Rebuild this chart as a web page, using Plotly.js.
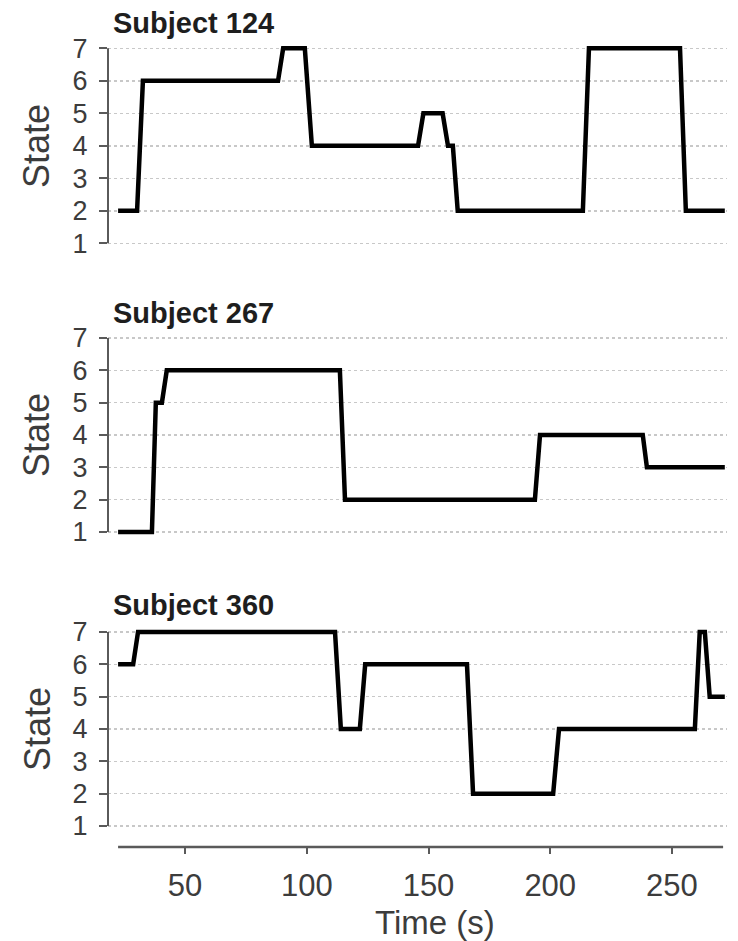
<!DOCTYPE html>
<html>
<head>
<meta charset="utf-8">
<script src="https://cdn.plot.ly/plotly-3.0.1.min.js"></script>
<style>
  html, body { margin: 0; padding: 0; background: #ffffff; }
  #chart { width: 738px; height: 941px; }
</style>
</head>
<body>
<div id="chart"></div>
<script>
// State trajectories over time for three subjects
const subjectNames = ["Subject 124", "Subject 267", "Subject 360"];

const time124  = [22.5, 30.3, 32.7, 88.2, 90.3, 99.2, 102.1, 145.7, 147.9, 155.8, 158.0, 160.0, 162.0, 213.4, 215.9, 253.3, 255.7, 271.7];
const state124 = [2,    2,    6,    6,    7,    7,    4,     4,     5,     5,     4,     4,     2,     2,     7,     7,     2,     2];

const time267  = [22.5, 36.4, 38.0, 40.5, 42.5, 113.6, 115.7, 193.7, 195.8, 238.0, 239.7, 271.7];
const state267 = [1,    1,    5,    5,    6,    6,     2,     2,     4,     4,     3,     3];

const time360  = [22.5, 28.7, 30.7, 111.6, 114.0, 121.8, 124.0, 165.8, 168.3, 201.2, 203.6, 259.4, 261.4, 263.5, 265.5, 271.7];
const state360 = [6,    6,    7,    7,     4,     4,     6,     6,     2,     2,     4,     4,     7,     7,     5,     5];

const stateTicks = [1, 2, 3, 4, 5, 6, 7];
const timeTicks  = [50, 100, 150, 200, 250];

const seriesTimes  = [time124, time267, time360];
const seriesStates = [state124, state267, state360];

// panel geometry (paper fractions)
const xRange = [18.36, 272.6];
const yDomains = [[0.7328, 0.9573], [0.4260, 0.6494], [0.0999, 0.3370]];
const yRanges  = [[0.75, 7.25], [0.75, 7.25], [0.35, 7.25]];

const FONT = "Liberation Sans, Arial, Helvetica, sans-serif";
const TEXT_GREY = "#3c3c3c";
const AXIS_GREY = "#5a5a5a";

const traces = seriesTimes.map((t, i) => ({
  type: "scatter",
  mode: "lines",
  x: t,
  y: seriesStates[i],
  xaxis: i === 0 ? "x" : "x" + (i + 1),
  yaxis: i === 0 ? "y" : "y" + (i + 1),
  line: { color: "#000000", width: 4.5, shape: "linear" },
  hoverinfo: "x+y",
  showlegend: false
}));

const layout = {
  width: 738,
  height: 941,
  margin: { l: 108, r: 11, t: 0, b: 0, pad: 0 },
  paper_bgcolor: "#ffffff",
  plot_bgcolor: "#ffffff",
  font: { family: FONT, color: TEXT_GREY },
  showlegend: false,
  shapes: [],
  annotations: []
};

for (let i = 0; i < 3; i++) {
  const xn = i === 0 ? "xaxis" : "xaxis" + (i + 1);
  const yn = i === 0 ? "yaxis" : "yaxis" + (i + 1);
  const yref = i === 0 ? "y" : "y" + (i + 1);
  const xref = i === 0 ? "x" : "x" + (i + 1);
  const isBottom = i === 2;

  layout[xn] = {
    domain: [0, 1],
    anchor: yref,
    range: xRange,
    showgrid: false,
    zeroline: false,
    showline: false,
    tickmode: "array",
    tickvals: isBottom ? timeTicks : [],
    ticktext: isBottom ? timeTicks.map(String) : [],
    ticks: isBottom ? "outside" : "",
    ticklen: 6,
    tickwidth: 2,
    tickcolor: AXIS_GREY,
    showticklabels: isBottom,
    tickfont: { family: FONT, size: 31, color: TEXT_GREY },
    ticklabelstandoff: 5,
    fixedrange: true
  };

  layout[yn] = {
    domain: yDomains[i],
    anchor: xref,
    range: yRanges[i],
    tickmode: "array",
    tickvals: stateTicks,
    ticktext: stateTicks.map(String),
    ticks: "outside",
    ticklen: 8,
    tickwidth: 2,
    tickcolor: AXIS_GREY,
    tickfont: { family: FONT, size: 27, color: TEXT_GREY },
    ticklabelstandoff: 6,
    showgrid: true,
    gridcolor: "#c8c8c8",
    gridwidth: 1.5,
    griddash: "dot",
    zeroline: false,
    showline: false,
    fixedrange: true
  };

  // vertical axis bracket spanning states 1..7
  layout.shapes.push({
    type: "line",
    xref: "paper", yref: yref,
    x0: 0, x1: 0, y0: 1, y1: 7,
    line: { color: AXIS_GREY, width: 2 }
  });

  // panel title
  layout.annotations.push({
    text: "<b>" + subjectNames[i] + "</b>",
    xref: "paper", yref: "paper",
    x: (111 - 108) / 619, xanchor: "left",
    y: 1 - [22.5, 312.5, 605][i] / 941, yanchor: "middle",
    showarrow: false,
    font: { family: FONT, size: 29, color: "#1e1e1e" }
  });

  // y axis title
  layout.annotations.push({
    text: "State",
    xref: "paper", yref: "paper",
    x: (37 - 108) / 619, xanchor: "center",
    y: 1 - [146, 435, 729][i] / 941, yanchor: "middle",
    textangle: -90,
    showarrow: false,
    font: { family: FONT, size: 36, color: TEXT_GREY }
  });
}

// bottom time axis line
layout.shapes.push({
  type: "line",
  xref: "x3", yref: "paper",
  x0: 22.5, x1: 271.0,
  y0: 1 - 847 / 941, y1: 1 - 847 / 941,
  line: { color: AXIS_GREY, width: 2.5 }
});

// x axis title
layout.annotations.push({
  text: "Time (s)",
  xref: "paper", yref: "paper",
  x: (435 - 108) / 619, xanchor: "center",
  y: 1 - 922 / 941, yanchor: "middle",
  showarrow: false,
  font: { family: FONT, size: 33, color: TEXT_GREY }
});

Plotly.newPlot("chart", traces, layout, { staticPlot: true, displayModeBar: false });
</script>
</body>
</html>
